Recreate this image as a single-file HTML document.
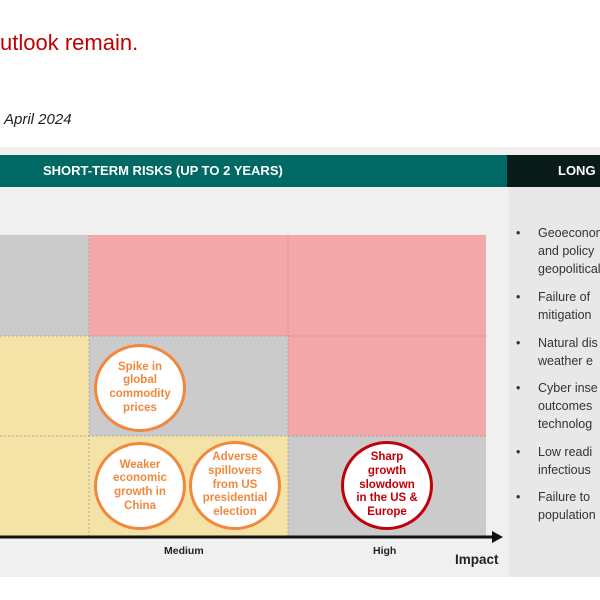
<!DOCTYPE html>
<html><head><meta charset="utf-8"><style>
body{margin:0;width:600px;height:600px;overflow:hidden;background:#fff;font-family:"Liberation Sans",sans-serif;position:relative}
div{position:absolute}
.c{border-radius:50%;background:#fff;box-sizing:border-box;display:flex;align-items:center;justify-content:center;text-align:center;font-weight:bold;font-size:11.5px;line-height:13.7px}
.o{border:3px solid #f0883e;color:#f0883e}
.r{border:3px solid #c0000b;color:#c0000b}
.li{left:516px;font-size:12.5px;color:#333;line-height:18px;white-space:nowrap}
.li span{position:absolute;left:22px;top:0}
</style></head><body>
<div style="left:0;top:30px;font-size:22px;color:#c00000;white-space:nowrap">utlook remain.</div>
<div style="left:4px;top:111px;font-size:15px;font-style:italic;color:#222">April 2024</div>
<div style="left:0;top:147px;width:600px;height:430px;background:#f0f0f0"></div>
<div style="left:509px;top:187px;width:91px;height:390px;background:#e8e8e8"></div>
<div style="left:0;top:155px;width:507px;height:32px;background:#006964;color:#fff;font-weight:bold;font-size:13px;line-height:32px;text-indent:43px">SHORT-TERM RISKS (UP TO 2 YEARS)</div>
<div style="left:507px;top:155px;width:93px;height:32px;background:#0a1c1a;color:#fff;font-weight:bold;font-size:13px;line-height:32px;text-indent:51px;white-space:nowrap;overflow:hidden">LONG</div>
<svg style="position:absolute;left:0;top:0" width="600" height="600">
<g id="cells"></g>
<line x1="0" y1="537" x2="494" y2="537" stroke="#111" stroke-width="3"/>
<polygon points="492,531 503,537 492,543" fill="#111"/>
</svg>
<div style="left:164px;top:545px;font-size:10.5px;font-weight:bold;color:#222">Medium</div>
<div style="left:373px;top:545px;font-size:10.5px;font-weight:bold;color:#222">High</div>
<div style="left:455px;top:552px;font-size:13.5px;font-weight:bold;color:#222">Impact</div>
<div class="c o" style="left:94px;top:344px;width:92px;height:88px">Spike in<br>global<br>commodity<br>prices</div>
<div class="c o" style="left:94px;top:442px;width:92px;height:88px">Weaker<br>economic<br>growth in<br>China</div>
<div class="c o" style="left:189px;top:441px;width:92px;height:89px">Adverse<br>spillovers<br>from US<br>presidential<br>election</div>
<div class="c r" style="left:341px;top:441px;width:92px;height:89px">Sharp<br>growth<br>slowdown<br>in the US &amp;<br>Europe</div>
<div class="li" style="top:224px">•<span>Geoeconomic<br>and policy<br>geopolitical</span></div>
<div class="li" style="top:288px">•<span>Failure of<br>mitigation</span></div>
<div class="li" style="top:334px">•<span>Natural dis<br>weather e</span></div>
<div class="li" style="top:379px">•<span>Cyber inse<br>outcomes<br>technolog</span></div>
<div class="li" style="top:443px">•<span>Low readi<br>infectious</span></div>
<div class="li" style="top:488px">•<span>Failure to<br>population</span></div>
<script>
const colEdges=[0,89,288,486];
const rowEdges=[235,336,436,536];
const cellColors=[["#cbcbcb","#f4a7a8","#f4a7a8"],["#f5e2a6","#cbcbcb","#f4a7a8"],["#f5e2a6","#f5e2a6","#cbcbcb"]];
const g=document.getElementById('cells');
const NS="http://www.w3.org/2000/svg";
for(let r=0;r<3;r++)for(let c=0;c<3;c++){
const el=document.createElementNS(NS,'rect');


el.setAttribute('x',colEdges[c]);el.setAttribute('y',rowEdges[r]);
el.setAttribute('width',colEdges[c+1]-colEdges[c]);el.setAttribute('height',rowEdges[r+1]-rowEdges[r]);
el.setAttribute('fill',cellColors[r][c]);
g.appendChild(el);}
for(let i=1;i<3;i++){
const v=document.createElementNS(NS,'line');


v.setAttribute('x1',colEdges[i]);v.setAttribute('x2',colEdges[i]);v.setAttribute('y1',rowEdges[0]);v.setAttribute('y2',rowEdges[3]);
v.setAttribute('stroke','#999');v.setAttribute('stroke-dasharray','2,2');v.setAttribute('stroke-width','0.7');
g.appendChild(v);
const h=document.createElementNS(NS,'line');


h.setAttribute('y1',rowEdges[i]);h.setAttribute('y2',rowEdges[i]);h.setAttribute('x1',colEdges[0]);h.setAttribute('x2',colEdges[3]);
h.setAttribute('stroke','#999');h.setAttribute('stroke-dasharray','2,2');h.setAttribute('stroke-width','0.7');
g.appendChild(h);}
</script>
</body></html>
